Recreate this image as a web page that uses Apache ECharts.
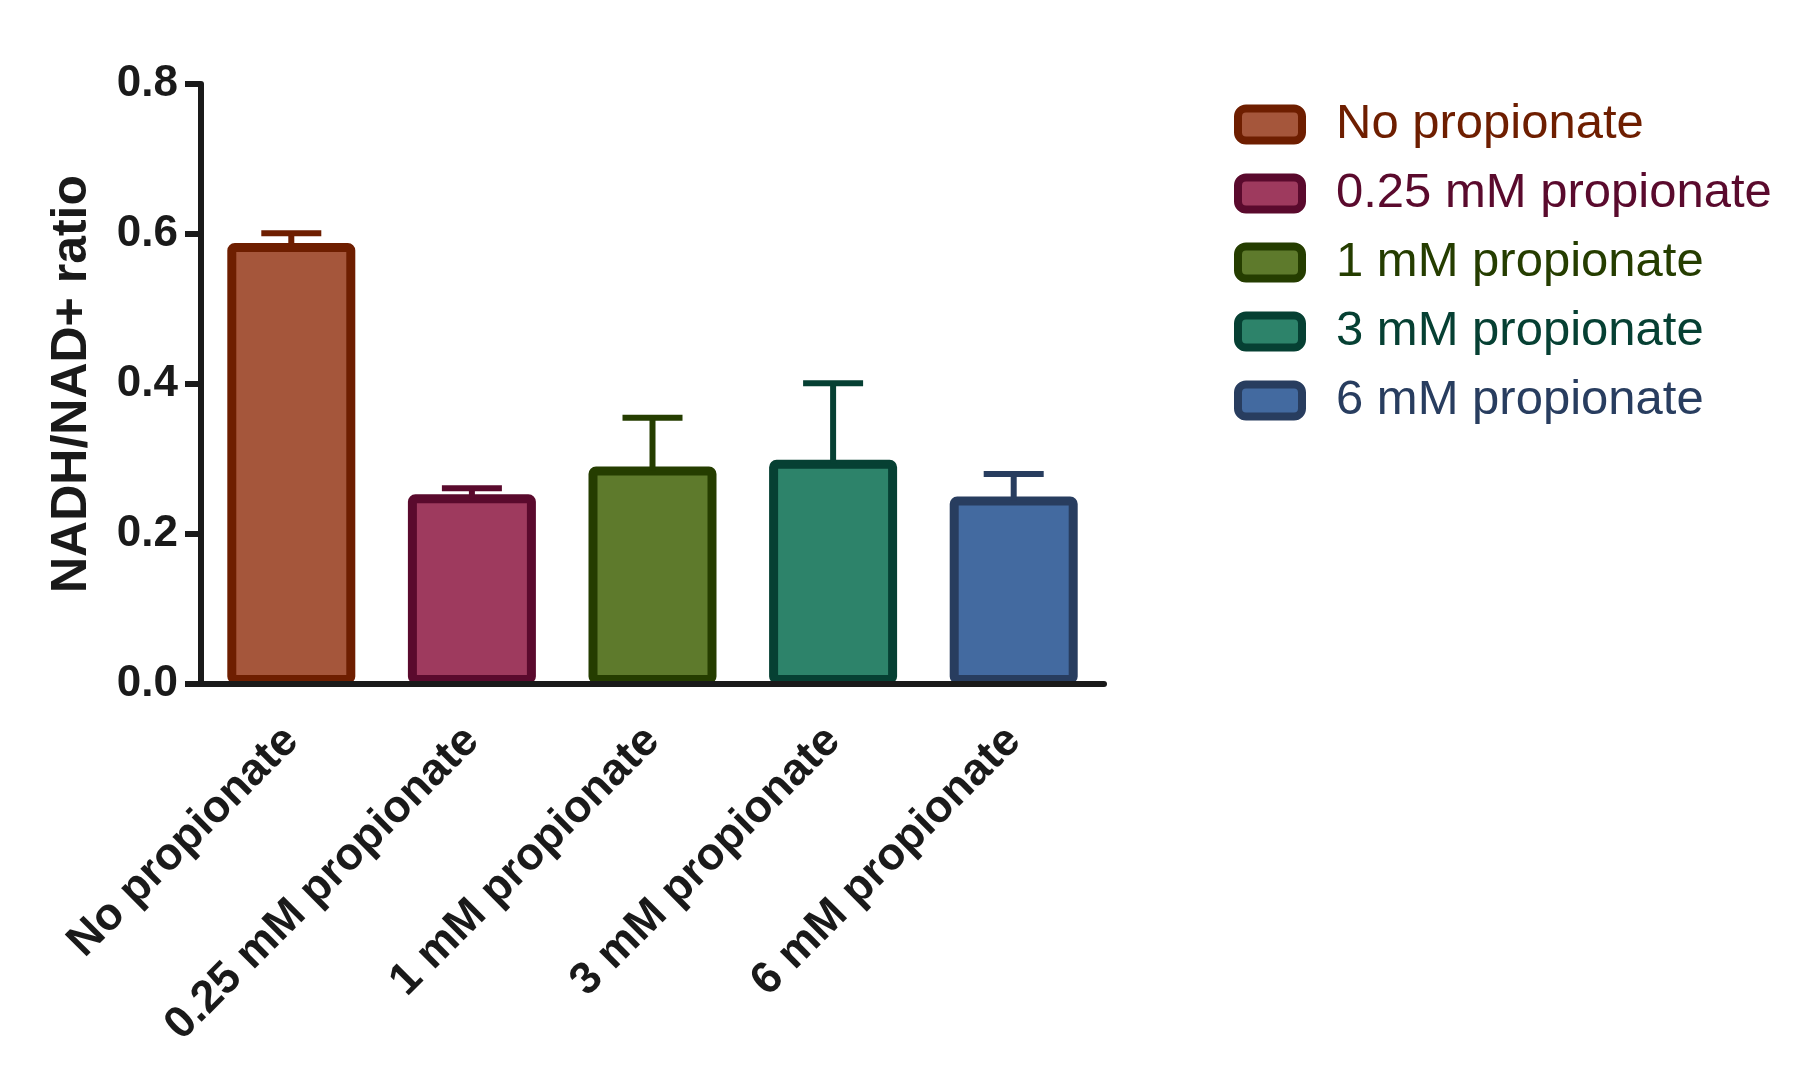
<!DOCTYPE html>
<html>
<head>
<meta charset="utf-8">
<style>
html,body{margin:0;padding:0;background:#fff;}
#chart{width:1815px;height:1090px;}
</style>
<script src="https://cdn.jsdelivr.net/npm/echarts@6/dist/echarts.min.js"></script>
</head>
<body>
<div id="chart"></div>
<script>
const categories = ['No propionate', '0.25 mM propionate', '1 mM propionate', '3 mM propionate', '6 mM propionate'];
const means = [0.588, 0.253, 0.290, 0.299, 0.250];
const errors = [0.013, 0.008, 0.065, 0.102, 0.030];
const fills = ['#A5563B', '#9E3A5E', '#5E7A2C', '#2D836A', '#436AA0'];
const borders = ['#6E1E00', '#5A0A2D', '#253D00', '#064033', '#283D5F'];
const yTicks = [0, 0.2, 0.4, 0.6, 0.8];

const FONT = "'Liberation Sans', Arial, Helvetica, sans-serif";
const AX = '#1a1a1a';

const chart = echarts.init(document.getElementById('chart'));

const barSeries = categories.map((name, i) => ({
  type: 'bar',
  name: name,
  stack: 'all',
  barWidth: 128,
  data: categories.map((_, j) => (j === i ? means[i] : null)),
  itemStyle: { color: fills[i], borderColor: borders[i], borderWidth: 9, borderRadius: 3 },
  emphasis: { disabled: true },
  z: 2
}));

const errorSeries = {
  type: 'custom',
  name: 'error',
  data: means.map((m, i) => [i, m, m + errors[i]]),
  encode: { x: 0, y: [1, 2] },
  z: 3,
  renderItem: function (params, api) {
    const i = api.value(0);
    const base = api.coord([i, api.value(1)]);
    const top = api.coord([i, api.value(2)]);
    const half = 30;
    const style = { stroke: borders[i], lineWidth: 6, fill: null };
    return {
      type: 'group',
      children: [
        { type: 'line', shape: { x1: top[0], y1: base[1] + 4, x2: top[0], y2: top[1] }, style: style },
        { type: 'line', shape: { x1: top[0] - half, y1: top[1], x2: top[0] + half, y2: top[1] }, style: style }
      ]
    };
  }
};

chart.setOption({
  animation: false,
  backgroundColor: '#ffffff',
  grid: { left: 201, right: 711, top: 84, bottom: 406, containLabel: false },
  legend: {
    orient: 'vertical',
    left: 1234,
    top: 100,
    padding: 0,
    itemWidth: 64,
    itemHeight: 32,
    itemGap: 20,
    icon: 'roundRect',
    selectedMode: false,
    data: categories.map((c, i) => ({ name: c, textStyle: { color: borders[i] } })),
    itemStyle: { borderWidth: 8 },
    textStyle: { fontFamily: FONT, fontSize: 49, padding: [0, 0, 0, 29] }
  },
  xAxis: {
    type: 'category',
    data: categories,
    z: 10,
    axisLine: { lineStyle: { color: AX, width: 6 } },
    axisTick: { alignWithLabel: true, length: 17, lineStyle: { color: AX, width: 6 } },
    axisLabel: {
      interval: 0,
      rotate: 45,
      margin: 50,
      color: AX,
      fontFamily: FONT,
      fontSize: 45,
      fontWeight: 'bold'
    },
    splitLine: { show: false }
  },
  yAxis: {
    type: 'value',
    min: 0,
    max: 0.8,
    interval: 0.2,
    z: 10,
    name: 'NADH/NAD+ ratio',
    nameLocation: 'middle',
    nameGap: 104,
    nameTextStyle: { color: AX, fontFamily: FONT, fontSize: 50, fontWeight: 'bold' },
    axisLine: { show: true, lineStyle: { color: AX, width: 6 } },
    axisTick: { show: true, length: 16, lineStyle: { color: AX, width: 6 } },
    axisLabel: {
      margin: 23,
      color: AX,
      fontFamily: FONT,
      fontSize: 44,
      fontWeight: 'bold',
      formatter: function (v) {
        const t = yTicks.find(x => Math.abs(x - v) < 1e-9);
        return (t !== undefined ? t : v).toFixed(1);
      }
    },
    splitLine: { show: false }
  },
  series: barSeries.concat([errorSeries])
});
</script>
</body>
</html>
